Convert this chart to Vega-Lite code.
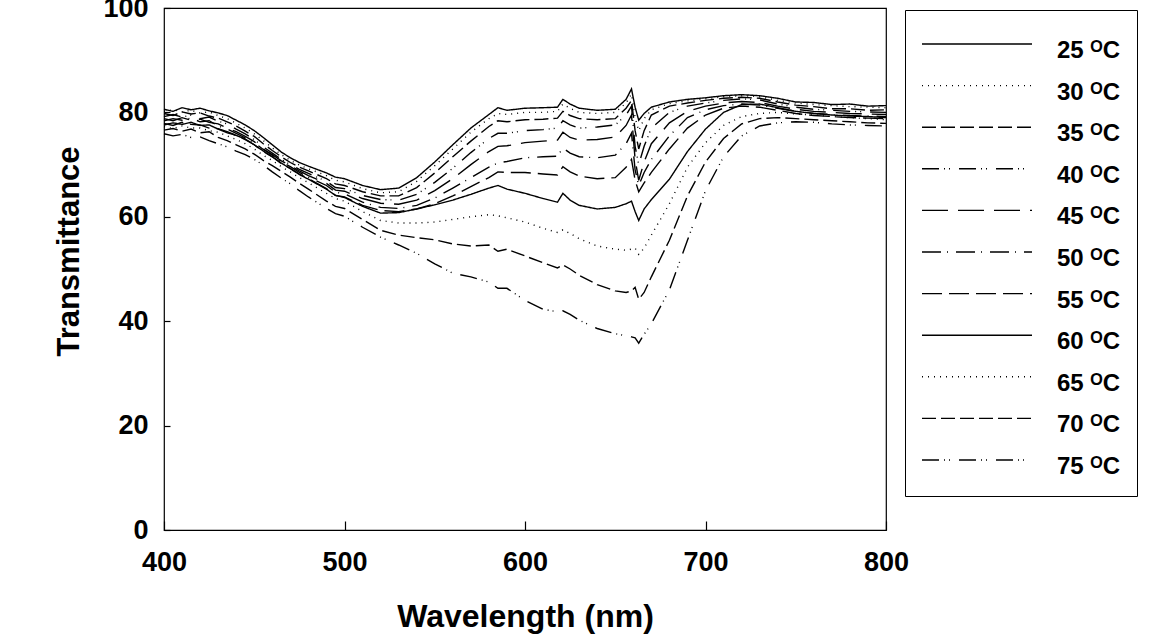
{
"$schema": "https://vega.github.io/schema/vega-lite/v6.json",
"width": 722, "height": 522,
"autosize": {"type": "none"},
"padding": {"left": 164, "top": 8, "right": 283, "bottom": 107},
"background": "white",
"config": {
  "view": {"stroke": "black", "strokeWidth": 1.2},
  "font": "Liberation Sans",
  "axis": {"domain": false, "grid": false, "tickColor": "black", "tickWidth": 1.2, "labelColor": "black", "titleColor": "black", "labelFont": "Liberation Sans", "labelFontWeight": "bold", "titleFont": "Liberation Sans", "titleFontWeight": "bold", "labelFlush": false, "labelOverlap": false}
},
"data": {"values": [
{"c":25,"w":400,"t":80.6},{"c":25,"w":405,"t":80.2},{"c":25,"w":410,"t":80.9},{"c":25,"w":415,"t":80.5},{"c":25,"w":420,"t":80.8},{"c":25,"w":425,"t":80.3},{"c":25,"w":430,"t":79.9},{"c":25,"w":435,"t":79.4},{"c":25,"w":440,"t":78.5},{"c":25,"w":445,"t":77.6},{"c":25,"w":450,"t":76.5},{"c":25,"w":455,"t":75.2},{"c":25,"w":460,"t":73.8},{"c":25,"w":465,"t":72.4},{"c":25,"w":470,"t":71.3},{"c":25,"w":475,"t":70.4},{"c":25,"w":480,"t":69.7},{"c":25,"w":490,"t":68.4},{"c":25,"w":495,"t":67.6},{"c":25,"w":500,"t":67.3},{"c":25,"w":510,"t":66.0},{"c":25,"w":520,"t":65.2},{"c":25,"w":530,"t":65.5},{"c":25,"w":540,"t":67.5},{"c":25,"w":550,"t":70.5},{"c":25,"w":560,"t":73.8},{"c":25,"w":570,"t":77.0},{"c":25,"w":580,"t":79.6},{"c":25,"w":585,"t":80.9},{"c":25,"w":590,"t":80.4},{"c":25,"w":600,"t":80.8},{"c":25,"w":610,"t":80.9},{"c":25,"w":618,"t":81.0},{"c":25,"w":621,"t":82.5},{"c":25,"w":625,"t":81.6},{"c":25,"w":630,"t":80.8},{"c":25,"w":640,"t":80.4},{"c":25,"w":650,"t":80.6},{"c":25,"w":656,"t":82.5},{"c":25,"w":659,"t":84.5},{"c":25,"w":661,"t":81.0},{"c":25,"w":663,"t":78.5},{"c":25,"w":666,"t":79.8},{"c":25,"w":670,"t":81.0},{"c":25,"w":680,"t":82.0},{"c":25,"w":690,"t":82.5},{"c":25,"w":700,"t":82.8},{"c":25,"w":710,"t":83.2},{"c":25,"w":720,"t":83.4},{"c":25,"w":730,"t":83.2},{"c":25,"w":740,"t":82.7},{"c":25,"w":750,"t":82.0},{"c":25,"w":760,"t":81.9},{"c":25,"w":770,"t":81.5},{"c":25,"w":780,"t":81.6},{"c":25,"w":790,"t":81.2},{"c":25,"w":800,"t":81.3},
{"c":30,"w":400,"t":80.2},{"c":30,"w":405,"t":80.5},{"c":30,"w":410,"t":80.1},{"c":30,"w":415,"t":80.4},{"c":30,"w":420,"t":79.9},{"c":30,"w":425,"t":80.1},{"c":30,"w":430,"t":79.4},{"c":30,"w":435,"t":78.8},{"c":30,"w":440,"t":77.9},{"c":30,"w":445,"t":77.0},{"c":30,"w":450,"t":75.9},{"c":30,"w":455,"t":74.6},{"c":30,"w":460,"t":73.2},{"c":30,"w":465,"t":71.9},{"c":30,"w":470,"t":70.8},{"c":30,"w":475,"t":69.9},{"c":30,"w":480,"t":69.2},{"c":30,"w":490,"t":67.9},{"c":30,"w":495,"t":67.0},{"c":30,"w":500,"t":66.7},{"c":30,"w":510,"t":65.4},{"c":30,"w":520,"t":64.6},{"c":30,"w":530,"t":64.8},{"c":30,"w":540,"t":66.8},{"c":30,"w":550,"t":69.8},{"c":30,"w":560,"t":73.0},{"c":30,"w":570,"t":76.2},{"c":30,"w":580,"t":78.8},{"c":30,"w":585,"t":79.8},{"c":30,"w":590,"t":79.6},{"c":30,"w":600,"t":80.0},{"c":30,"w":610,"t":80.0},{"c":30,"w":618,"t":80.2},{"c":30,"w":621,"t":81.6},{"c":30,"w":625,"t":80.8},{"c":30,"w":630,"t":80.0},{"c":30,"w":640,"t":79.8},{"c":30,"w":650,"t":80.0},{"c":30,"w":656,"t":81.8},{"c":30,"w":659,"t":83.5},{"c":30,"w":661,"t":79.0},{"c":30,"w":663,"t":76.5},{"c":30,"w":666,"t":78.8},{"c":30,"w":670,"t":80.5},{"c":30,"w":680,"t":81.7},{"c":30,"w":690,"t":82.2},{"c":30,"w":700,"t":82.6},{"c":30,"w":710,"t":83.0},{"c":30,"w":720,"t":83.2},{"c":30,"w":730,"t":83.0},{"c":30,"w":740,"t":82.3},{"c":30,"w":750,"t":81.8},{"c":30,"w":760,"t":81.5},{"c":30,"w":770,"t":81.3},{"c":30,"w":780,"t":81.1},{"c":30,"w":790,"t":81.0},{"c":30,"w":800,"t":80.9},
{"c":35,"w":400,"t":79.8},{"c":35,"w":405,"t":79.4},{"c":35,"w":410,"t":80.1},{"c":35,"w":415,"t":79.7},{"c":35,"w":420,"t":79.9},{"c":35,"w":425,"t":79.3},{"c":35,"w":430,"t":78.9},{"c":35,"w":435,"t":78.2},{"c":35,"w":440,"t":77.4},{"c":35,"w":445,"t":76.4},{"c":35,"w":450,"t":75.4},{"c":35,"w":455,"t":74.0},{"c":35,"w":460,"t":72.7},{"c":35,"w":465,"t":71.5},{"c":35,"w":470,"t":70.4},{"c":35,"w":475,"t":69.5},{"c":35,"w":480,"t":68.8},{"c":35,"w":490,"t":67.3},{"c":35,"w":495,"t":66.3},{"c":35,"w":500,"t":66.0},{"c":35,"w":510,"t":64.8},{"c":35,"w":520,"t":64.0},{"c":35,"w":530,"t":64.0},{"c":35,"w":540,"t":65.6},{"c":35,"w":550,"t":68.4},{"c":35,"w":560,"t":71.5},{"c":35,"w":570,"t":74.5},{"c":35,"w":580,"t":77.3},{"c":35,"w":585,"t":78.4},{"c":35,"w":590,"t":78.2},{"c":35,"w":600,"t":78.6},{"c":35,"w":610,"t":78.7},{"c":35,"w":618,"t":78.9},{"c":35,"w":621,"t":80.2},{"c":35,"w":625,"t":79.4},{"c":35,"w":630,"t":78.8},{"c":35,"w":640,"t":78.6},{"c":35,"w":650,"t":78.8},{"c":35,"w":656,"t":80.8},{"c":35,"w":659,"t":82.3},{"c":35,"w":661,"t":76.5},{"c":35,"w":663,"t":73.0},{"c":35,"w":666,"t":76.5},{"c":35,"w":670,"t":79.5},{"c":35,"w":680,"t":81.2},{"c":35,"w":690,"t":81.8},{"c":35,"w":700,"t":82.3},{"c":35,"w":710,"t":82.7},{"c":35,"w":720,"t":82.9},{"c":35,"w":730,"t":82.7},{"c":35,"w":740,"t":82.0},{"c":35,"w":750,"t":81.4},{"c":35,"w":760,"t":81.1},{"c":35,"w":770,"t":80.7},{"c":35,"w":780,"t":80.7},{"c":35,"w":790,"t":80.4},{"c":35,"w":800,"t":80.5},
{"c":40,"w":400,"t":79.2},{"c":40,"w":405,"t":79.6},{"c":40,"w":410,"t":79.1},{"c":40,"w":415,"t":79.5},{"c":40,"w":420,"t":78.8},{"c":40,"w":425,"t":79.1},{"c":40,"w":430,"t":78.3},{"c":40,"w":435,"t":77.8},{"c":40,"w":440,"t":76.8},{"c":40,"w":445,"t":75.9},{"c":40,"w":450,"t":74.8},{"c":40,"w":455,"t":73.4},{"c":40,"w":460,"t":72.2},{"c":40,"w":465,"t":71.0},{"c":40,"w":470,"t":70.0},{"c":40,"w":475,"t":69.1},{"c":40,"w":480,"t":68.3},{"c":40,"w":490,"t":66.8},{"c":40,"w":495,"t":65.6},{"c":40,"w":500,"t":65.4},{"c":40,"w":510,"t":64.1},{"c":40,"w":520,"t":63.3},{"c":40,"w":530,"t":63.2},{"c":40,"w":540,"t":64.3},{"c":40,"w":550,"t":66.6},{"c":40,"w":560,"t":69.3},{"c":40,"w":570,"t":72.3},{"c":40,"w":580,"t":75.0},{"c":40,"w":585,"t":76.0},{"c":40,"w":590,"t":76.0},{"c":40,"w":600,"t":76.5},{"c":40,"w":610,"t":76.7},{"c":40,"w":618,"t":77.0},{"c":40,"w":621,"t":78.4},{"c":40,"w":625,"t":77.6},{"c":40,"w":630,"t":77.0},{"c":40,"w":640,"t":77.2},{"c":40,"w":650,"t":77.6},{"c":40,"w":656,"t":79.5},{"c":40,"w":659,"t":81.2},{"c":40,"w":661,"t":73.5},{"c":40,"w":663,"t":70.0},{"c":40,"w":666,"t":73.5},{"c":40,"w":670,"t":77.0},{"c":40,"w":680,"t":80.0},{"c":40,"w":690,"t":81.2},{"c":40,"w":700,"t":81.8},{"c":40,"w":710,"t":82.3},{"c":40,"w":720,"t":82.6},{"c":40,"w":730,"t":82.4},{"c":40,"w":740,"t":81.6},{"c":40,"w":750,"t":81.0},{"c":40,"w":760,"t":80.6},{"c":40,"w":770,"t":80.4},{"c":40,"w":780,"t":80.2},{"c":40,"w":790,"t":80.1},{"c":40,"w":800,"t":80.0},
{"c":45,"w":400,"t":78.8},{"c":45,"w":405,"t":78.4},{"c":45,"w":410,"t":79.0},{"c":45,"w":415,"t":78.5},{"c":45,"w":420,"t":78.7},{"c":45,"w":425,"t":78.1},{"c":45,"w":430,"t":77.8},{"c":45,"w":435,"t":77.0},{"c":45,"w":440,"t":76.3},{"c":45,"w":445,"t":75.4},{"c":45,"w":450,"t":74.4},{"c":45,"w":455,"t":73.0},{"c":45,"w":460,"t":71.9},{"c":45,"w":465,"t":70.7},{"c":45,"w":470,"t":69.8},{"c":45,"w":475,"t":68.8},{"c":45,"w":480,"t":67.9},{"c":45,"w":490,"t":66.4},{"c":45,"w":495,"t":65.1},{"c":45,"w":500,"t":64.9},{"c":45,"w":510,"t":63.5},{"c":45,"w":520,"t":62.6},{"c":45,"w":530,"t":62.4},{"c":45,"w":540,"t":63.2},{"c":45,"w":550,"t":65.0},{"c":45,"w":560,"t":67.3},{"c":45,"w":570,"t":70.0},{"c":45,"w":580,"t":72.5},{"c":45,"w":585,"t":73.5},{"c":45,"w":590,"t":73.6},{"c":45,"w":600,"t":74.2},{"c":45,"w":610,"t":74.5},{"c":45,"w":618,"t":74.7},{"c":45,"w":621,"t":76.2},{"c":45,"w":625,"t":75.2},{"c":45,"w":630,"t":74.7},{"c":45,"w":640,"t":74.8},{"c":45,"w":650,"t":75.3},{"c":45,"w":656,"t":77.5},{"c":45,"w":659,"t":79.5},{"c":45,"w":661,"t":71.0},{"c":45,"w":663,"t":67.0},{"c":45,"w":666,"t":70.5},{"c":45,"w":670,"t":74.0},{"c":45,"w":680,"t":78.0},{"c":45,"w":690,"t":80.2},{"c":45,"w":700,"t":81.2},{"c":45,"w":710,"t":81.8},{"c":45,"w":720,"t":82.1},{"c":45,"w":730,"t":81.9},{"c":45,"w":740,"t":81.2},{"c":45,"w":750,"t":80.6},{"c":45,"w":760,"t":80.2},{"c":45,"w":770,"t":80.0},{"c":45,"w":780,"t":79.8},{"c":45,"w":790,"t":79.7},{"c":45,"w":800,"t":79.6},
{"c":50,"w":400,"t":78.4},{"c":50,"w":405,"t":78.8},{"c":50,"w":410,"t":78.5},{"c":50,"w":415,"t":78.9},{"c":50,"w":420,"t":78.2},{"c":50,"w":425,"t":78.4},{"c":50,"w":430,"t":77.4},{"c":50,"w":435,"t":76.8},{"c":50,"w":440,"t":76.0},{"c":50,"w":445,"t":75.1},{"c":50,"w":450,"t":74.2},{"c":50,"w":455,"t":72.9},{"c":50,"w":460,"t":71.8},{"c":50,"w":465,"t":70.5},{"c":50,"w":470,"t":69.6},{"c":50,"w":475,"t":68.5},{"c":50,"w":480,"t":67.6},{"c":50,"w":490,"t":66.0},{"c":50,"w":495,"t":64.7},{"c":50,"w":500,"t":64.4},{"c":50,"w":510,"t":62.8},{"c":50,"w":520,"t":61.8},{"c":50,"w":530,"t":61.6},{"c":50,"w":540,"t":62.2},{"c":50,"w":550,"t":63.6},{"c":50,"w":560,"t":65.5},{"c":50,"w":570,"t":67.5},{"c":50,"w":580,"t":69.5},{"c":50,"w":585,"t":70.3},{"c":50,"w":590,"t":70.6},{"c":50,"w":600,"t":71.3},{"c":50,"w":610,"t":71.5},{"c":50,"w":618,"t":71.6},{"c":50,"w":621,"t":73.2},{"c":50,"w":625,"t":72.2},{"c":50,"w":630,"t":71.5},{"c":50,"w":640,"t":71.3},{"c":50,"w":650,"t":71.8},{"c":50,"w":656,"t":74.0},{"c":50,"w":659,"t":76.0},{"c":50,"w":661,"t":69.0},{"c":50,"w":663,"t":66.0},{"c":50,"w":666,"t":68.5},{"c":50,"w":670,"t":71.0},{"c":50,"w":680,"t":75.5},{"c":50,"w":690,"t":79.0},{"c":50,"w":700,"t":80.5},{"c":50,"w":710,"t":81.3},{"c":50,"w":720,"t":81.6},{"c":50,"w":730,"t":81.4},{"c":50,"w":740,"t":80.8},{"c":50,"w":750,"t":80.2},{"c":50,"w":760,"t":79.8},{"c":50,"w":770,"t":79.6},{"c":50,"w":780,"t":79.4},{"c":50,"w":790,"t":79.3},{"c":50,"w":800,"t":79.2},
{"c":55,"w":400,"t":77.9},{"c":55,"w":405,"t":77.5},{"c":55,"w":410,"t":78.1},{"c":55,"w":415,"t":77.7},{"c":55,"w":420,"t":77.6},{"c":55,"w":425,"t":77.0},{"c":55,"w":430,"t":76.9},{"c":55,"w":435,"t":76.3},{"c":55,"w":440,"t":75.6},{"c":55,"w":445,"t":74.8},{"c":55,"w":450,"t":73.8},{"c":55,"w":455,"t":72.5},{"c":55,"w":460,"t":71.5},{"c":55,"w":465,"t":70.2},{"c":55,"w":470,"t":69.3},{"c":55,"w":475,"t":68.2},{"c":55,"w":480,"t":67.3},{"c":55,"w":490,"t":65.4},{"c":55,"w":495,"t":64.1},{"c":55,"w":500,"t":63.8},{"c":55,"w":510,"t":62.2},{"c":55,"w":520,"t":61.2},{"c":55,"w":530,"t":61.0},{"c":55,"w":540,"t":61.5},{"c":55,"w":550,"t":62.5},{"c":55,"w":560,"t":64.0},{"c":55,"w":570,"t":65.8},{"c":55,"w":580,"t":67.5},{"c":55,"w":585,"t":68.6},{"c":55,"w":590,"t":68.5},{"c":55,"w":600,"t":68.5},{"c":55,"w":610,"t":68.2},{"c":55,"w":618,"t":68.0},{"c":55,"w":621,"t":69.6},{"c":55,"w":625,"t":68.6},{"c":55,"w":630,"t":67.8},{"c":55,"w":640,"t":67.3},{"c":55,"w":650,"t":67.5},{"c":55,"w":656,"t":69.5},{"c":55,"w":659,"t":71.0},{"c":55,"w":661,"t":67.0},{"c":55,"w":663,"t":64.8},{"c":55,"w":666,"t":66.5},{"c":55,"w":670,"t":68.5},{"c":55,"w":680,"t":73.0},{"c":55,"w":690,"t":77.0},{"c":55,"w":700,"t":79.5},{"c":55,"w":710,"t":80.8},{"c":55,"w":720,"t":81.2},{"c":55,"w":730,"t":81.0},{"c":55,"w":740,"t":80.4},{"c":55,"w":750,"t":79.8},{"c":55,"w":760,"t":79.4},{"c":55,"w":770,"t":79.2},{"c":55,"w":780,"t":79.0},{"c":55,"w":790,"t":78.9},{"c":55,"w":800,"t":78.8},
{"c":60,"w":400,"t":77.6},{"c":60,"w":405,"t":78.0},{"c":60,"w":410,"t":77.7},{"c":60,"w":415,"t":78.1},{"c":60,"w":420,"t":77.5},{"c":60,"w":425,"t":77.6},{"c":60,"w":430,"t":76.8},{"c":60,"w":435,"t":76.1},{"c":60,"w":440,"t":75.6},{"c":60,"w":445,"t":74.9},{"c":60,"w":450,"t":73.8},{"c":60,"w":455,"t":72.6},{"c":60,"w":460,"t":71.5},{"c":60,"w":465,"t":70.3},{"c":60,"w":470,"t":69.2},{"c":60,"w":475,"t":68.1},{"c":60,"w":480,"t":67.2},{"c":60,"w":490,"t":65.3},{"c":60,"w":495,"t":64.1},{"c":60,"w":500,"t":63.7},{"c":60,"w":510,"t":62.0},{"c":60,"w":520,"t":60.7},{"c":60,"w":530,"t":60.8},{"c":60,"w":540,"t":61.5},{"c":60,"w":550,"t":62.3},{"c":60,"w":560,"t":63.2},{"c":60,"w":570,"t":64.3},{"c":60,"w":580,"t":65.5},{"c":60,"w":585,"t":66.0},{"c":60,"w":590,"t":65.3},{"c":60,"w":600,"t":64.5},{"c":60,"w":610,"t":63.5},{"c":60,"w":618,"t":62.8},{"c":60,"w":621,"t":64.5},{"c":60,"w":625,"t":63.2},{"c":60,"w":630,"t":62.2},{"c":60,"w":640,"t":61.5},{"c":60,"w":650,"t":61.8},{"c":60,"w":656,"t":62.5},{"c":60,"w":659,"t":63.0},{"c":60,"w":661,"t":61.0},{"c":60,"w":663,"t":59.3},{"c":60,"w":666,"t":61.5},{"c":60,"w":670,"t":63.3},{"c":60,"w":680,"t":67.2},{"c":60,"w":690,"t":72.5},{"c":60,"w":700,"t":76.8},{"c":60,"w":710,"t":80.0},{"c":60,"w":720,"t":81.5},{"c":60,"w":730,"t":81.6},{"c":60,"w":740,"t":80.9},{"c":60,"w":750,"t":80.2},{"c":60,"w":760,"t":79.8},{"c":60,"w":770,"t":79.5},{"c":60,"w":780,"t":79.3},{"c":60,"w":790,"t":79.2},{"c":60,"w":800,"t":79.0},
{"c":65,"w":400,"t":77.3},{"c":65,"w":405,"t":76.9},{"c":65,"w":410,"t":77.4},{"c":65,"w":415,"t":77.0},{"c":65,"w":420,"t":77.0},{"c":65,"w":425,"t":76.5},{"c":65,"w":430,"t":76.2},{"c":65,"w":435,"t":75.5},{"c":65,"w":440,"t":74.8},{"c":65,"w":445,"t":74.0},{"c":65,"w":450,"t":73.0},{"c":65,"w":455,"t":71.8},{"c":65,"w":460,"t":70.8},{"c":65,"w":465,"t":69.6},{"c":65,"w":470,"t":68.6},{"c":65,"w":475,"t":67.5},{"c":65,"w":480,"t":66.5},{"c":65,"w":490,"t":64.5},{"c":65,"w":495,"t":63.5},{"c":65,"w":500,"t":63.0},{"c":65,"w":510,"t":61.0},{"c":65,"w":520,"t":59.3},{"c":65,"w":530,"t":58.8},{"c":65,"w":540,"t":58.8},{"c":65,"w":550,"t":59.0},{"c":65,"w":560,"t":59.5},{"c":65,"w":570,"t":60.0},{"c":65,"w":580,"t":60.4},{"c":65,"w":585,"t":60.2},{"c":65,"w":590,"t":59.8},{"c":65,"w":600,"t":59.0},{"c":65,"w":610,"t":57.8},{"c":65,"w":618,"t":57.0},{"c":65,"w":621,"t":57.5},{"c":65,"w":625,"t":56.8},{"c":65,"w":630,"t":55.8},{"c":65,"w":640,"t":54.4},{"c":65,"w":650,"t":53.8},{"c":65,"w":656,"t":53.6},{"c":65,"w":659,"t":53.8},{"c":65,"w":661,"t":54.0},{"c":65,"w":663,"t":52.8},{"c":65,"w":666,"t":54.0},{"c":65,"w":670,"t":56.5},{"c":65,"w":680,"t":62.5},{"c":65,"w":690,"t":69.5},{"c":65,"w":700,"t":74.2},{"c":65,"w":710,"t":77.5},{"c":65,"w":720,"t":79.2},{"c":65,"w":730,"t":79.8},{"c":65,"w":740,"t":80.0},{"c":65,"w":750,"t":79.7},{"c":65,"w":760,"t":79.5},{"c":65,"w":770,"t":79.2},{"c":65,"w":780,"t":79.0},{"c":65,"w":790,"t":78.8},{"c":65,"w":800,"t":78.6},
{"c":70,"w":400,"t":76.6},{"c":70,"w":405,"t":76.9},{"c":70,"w":410,"t":76.4},{"c":70,"w":415,"t":76.8},{"c":70,"w":420,"t":76.1},{"c":70,"w":425,"t":76.3},{"c":70,"w":430,"t":75.2},{"c":70,"w":435,"t":74.6},{"c":70,"w":440,"t":73.8},{"c":70,"w":445,"t":73.0},{"c":70,"w":450,"t":72.0},{"c":70,"w":455,"t":70.8},{"c":70,"w":460,"t":69.8},{"c":70,"w":465,"t":68.7},{"c":70,"w":470,"t":67.6},{"c":70,"w":475,"t":66.4},{"c":70,"w":480,"t":65.3},{"c":70,"w":490,"t":63.0},{"c":70,"w":495,"t":62.0},{"c":70,"w":500,"t":61.6},{"c":70,"w":510,"t":59.5},{"c":70,"w":520,"t":57.4},{"c":70,"w":530,"t":56.5},{"c":70,"w":540,"t":56.0},{"c":70,"w":550,"t":55.6},{"c":70,"w":560,"t":54.8},{"c":70,"w":570,"t":54.4},{"c":70,"w":580,"t":54.6},{"c":70,"w":585,"t":53.4},{"c":70,"w":590,"t":53.8},{"c":70,"w":600,"t":52.5},{"c":70,"w":610,"t":51.2},{"c":70,"w":618,"t":50.2},{"c":70,"w":621,"t":50.8},{"c":70,"w":625,"t":50.0},{"c":70,"w":630,"t":48.8},{"c":70,"w":640,"t":47.0},{"c":70,"w":650,"t":45.8},{"c":70,"w":656,"t":45.5},{"c":70,"w":659,"t":45.8},{"c":70,"w":661,"t":46.5},{"c":70,"w":663,"t":44.2},{"c":70,"w":666,"t":45.5},{"c":70,"w":670,"t":48.5},{"c":70,"w":680,"t":55.5},{"c":70,"w":690,"t":64.0},{"c":70,"w":700,"t":70.5},{"c":70,"w":710,"t":75.0},{"c":70,"w":720,"t":77.8},{"c":70,"w":730,"t":78.8},{"c":70,"w":740,"t":79.0},{"c":70,"w":750,"t":78.8},{"c":70,"w":760,"t":78.6},{"c":70,"w":770,"t":78.4},{"c":70,"w":780,"t":78.2},{"c":70,"w":790,"t":78.0},{"c":70,"w":800,"t":77.9},
{"c":75,"w":400,"t":75.9},{"c":75,"w":405,"t":75.5},{"c":75,"w":410,"t":75.8},{"c":75,"w":415,"t":75.2},{"c":75,"w":420,"t":75.3},{"c":75,"w":425,"t":74.6},{"c":75,"w":430,"t":74.0},{"c":75,"w":435,"t":73.4},{"c":75,"w":440,"t":72.6},{"c":75,"w":445,"t":71.9},{"c":75,"w":450,"t":71.0},{"c":75,"w":455,"t":69.9},{"c":75,"w":460,"t":68.6},{"c":75,"w":465,"t":67.4},{"c":75,"w":470,"t":66.3},{"c":75,"w":475,"t":65.0},{"c":75,"w":480,"t":63.8},{"c":75,"w":490,"t":61.6},{"c":75,"w":495,"t":60.6},{"c":75,"w":500,"t":60.1},{"c":75,"w":510,"t":58.0},{"c":75,"w":520,"t":56.1},{"c":75,"w":530,"t":54.6},{"c":75,"w":540,"t":53.0},{"c":75,"w":550,"t":51.0},{"c":75,"w":560,"t":49.2},{"c":75,"w":570,"t":48.5},{"c":75,"w":580,"t":47.5},{"c":75,"w":585,"t":46.3},{"c":75,"w":590,"t":46.3},{"c":75,"w":600,"t":44.0},{"c":75,"w":610,"t":42.3},{"c":75,"w":618,"t":41.8},{"c":75,"w":621,"t":42.0},{"c":75,"w":625,"t":41.3},{"c":75,"w":630,"t":40.2},{"c":75,"w":640,"t":38.6},{"c":75,"w":650,"t":37.6},{"c":75,"w":656,"t":37.2},{"c":75,"w":659,"t":37.0},{"c":75,"w":661,"t":36.8},{"c":75,"w":663,"t":35.8},{"c":75,"w":666,"t":37.5},{"c":75,"w":670,"t":39.5},{"c":75,"w":680,"t":46.0},{"c":75,"w":690,"t":55.5},{"c":75,"w":700,"t":65.0},{"c":75,"w":710,"t":71.5},{"c":75,"w":720,"t":75.5},{"c":75,"w":730,"t":77.4},{"c":75,"w":740,"t":78.0},{"c":75,"w":750,"t":78.2},{"c":75,"w":760,"t":78.1},{"c":75,"w":770,"t":77.8},{"c":75,"w":780,"t":77.6},{"c":75,"w":790,"t":77.5},{"c":75,"w":800,"t":77.4}
]},
"mark": {"type": "line", "color": "black", "strokeWidth": 1.4},
"encoding": {
  "x": {"field": "w", "type": "quantitative", "scale": {"domain": [400, 800], "nice": false, "zero": false},
        "axis": {"values": [400, 500, 600, 700, 800], "tickSize": -9, "labelPadding": 28, "labelFontSize": 27, "title": "Wavelength (nm)", "titleFontSize": 32, "titleBaseline": "alphabetic", "titleY": 96}},
  "y": {"field": "t", "type": "quantitative", "scale": {"domain": [0, 100], "nice": false},
        "axis": {"values": [0, 20, 40, 60, 80, 100], "tickSize": -6, "labelPadding": 22, "labelFontSize": 27, "title": "Transmittance", "titleFontSize": 31, "titleBaseline": "alphabetic", "titleAngle": -90, "titleX": -86, "titleY": 243}},
  "strokeDash": {"field": "c", "type": "nominal",
        "scale": {"domain": [25, 30, 35, 40, 45, 50, 55, 60, 65, 70, 75],
                  "range": [[1, 0], [1, 5], [14, 5], [17, 5, 1, 4, 1, 9], [26, 10], [19, 6, 1, 8], [20, 7], [1, 0], [1, 5], [14, 5], [17, 5, 1, 4, 1, 9]]},
        "legend": {"title": null, "orient": "none", "legendX": 741, "legendY": 2, "direction": "vertical",
                   "symbolType": "stroke", "symbolSize": 12100, "symbolStrokeWidth": 1.4, "symbolStrokeColor": "black",
                   "clipHeight": 36, "rowPadding": 4.6, "padding": 16, "labelOffset": 24,
                   "labelFontSize": 24, "labelFont": "Liberation Sans", "labelFontWeight": "bold", "labelColor": "black",
                   "labelExpr": "datum.label + ' ᴼC'", "labelLimit": 200,
                   "fillColor": "white", "strokeColor": "black",
                   "encode": {"labels": {"update": {"dy": {"value": 7}}}}}}
}
}
